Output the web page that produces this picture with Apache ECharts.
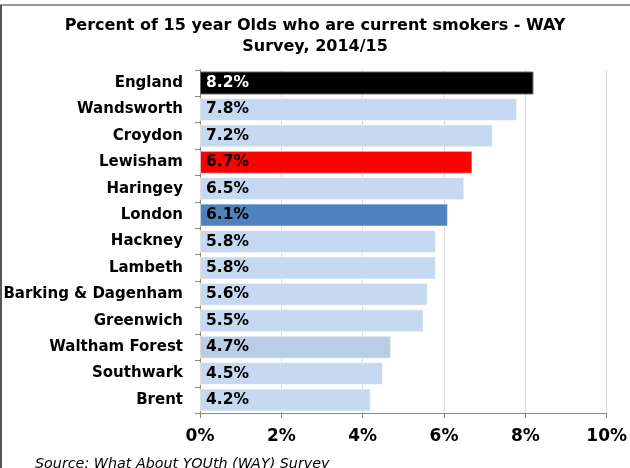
<!DOCTYPE html>
<html>
<head>
<meta charset="utf-8">
<script src="https://cdn.jsdelivr.net/npm/echarts@6/dist/echarts.min.js"></script>
<style>
html,body{margin:0;padding:0;background:#fff;}
#chart{width:630px;height:468px;}
</style>
</head>
<body>
<div id="chart"></div>
<script>
const categories = ["England","Wandsworth","Croydon","Lewisham","Haringey","London","Hackney","Lambeth","Barking & Dagenham","Greenwich","Waltham Forest","Southwark","Brent"];
const values = [8.2,7.8,7.2,6.7,6.5,6.1,5.8,5.8,5.6,5.5,4.7,4.5,4.2];
const barColors = ["#000000","#C6D9F1","#C6D9F1","#FF0000","#C6D9F1","#4F81BD","#C6D9F1","#C6D9F1","#C6D9F1","#C6D9F1","#B9CDE5","#C6D9F1","#C6D9F1"];
const labelColors = ["#FFFFFF","#000","#000","#000","#000","#000","#000","#000","#000","#000","#000","#000","#000"];
const titleText = "Percent of 15 year Olds who are current smokers - WAY\nSurvey, 2014/15";
const sourceText = "Source: What About YOUth (WAY) Survey";

const FONT = "DejaVu Sans";
const chart = echarts.init(document.getElementById('chart'), null, {renderer:'canvas'});
chart.setOption({
  animation:false,
  backgroundColor:'#fff',
  title:{
    text:titleText, left:'center', top:10,
    textStyle:{fontFamily:FONT, fontWeight:'bold', fontSize:16, color:'#000', lineHeight:21}
  },
  grid:{left:200, right:23, top:69.8, bottom:54.8},
  xAxis:{
    type:'value', min:0, max:10, interval:2,
    axisLine:{show:true, lineStyle:{color:'#888'}},
    axisTick:{show:true, length:5, lineStyle:{color:'#888'}},
    splitLine:{show:true, lineStyle:{color:'#D9D9D9'}},
    axisLabel:{formatter:v=>v+'%', fontFamily:FONT, fontWeight:'bold', fontSize:17, color:'#000', margin:15}
  },
  yAxis:{
    type:'category', data:categories, inverse:true,
    axisLine:{show:true, lineStyle:{color:'#888'}},
    axisTick:{show:true, length:5, lineStyle:{color:'#888'}},
    axisLabel:{fontFamily:FONT, fontWeight:'bold', fontSize:15, color:'#000', margin:17}
  },
  series:[{
    type:'bar', barCategoryGap:'13%',
    data:values.map((v,i)=>({value:v, itemStyle:{color:barColors[i], borderColor: i===0?'#666':'rgba(255,255,255,0.6)', borderWidth:1}, label:{color:labelColors[i]}})),
    label:{show:true, position:'insideLeft', distance:6, formatter:p=>p.value.toFixed(1)+'%', fontFamily:FONT, fontWeight:'bold', fontSize:15.5}
  }],
  graphic:[
    {type:'line', shape:{x1:0,y1:5,x2:630,y2:5}, style:{stroke:'#999', lineWidth:2}},
    {type:'line', shape:{x1:1,y1:5,x2:1,y2:468}, style:{stroke:'#555', lineWidth:2}},
    {type:'text', left:35, top:457, style:{text:sourceText, font:'italic 14.3px "DejaVu Sans"', fill:'#000'}}
  ]
});
</script>
</body>
</html>
